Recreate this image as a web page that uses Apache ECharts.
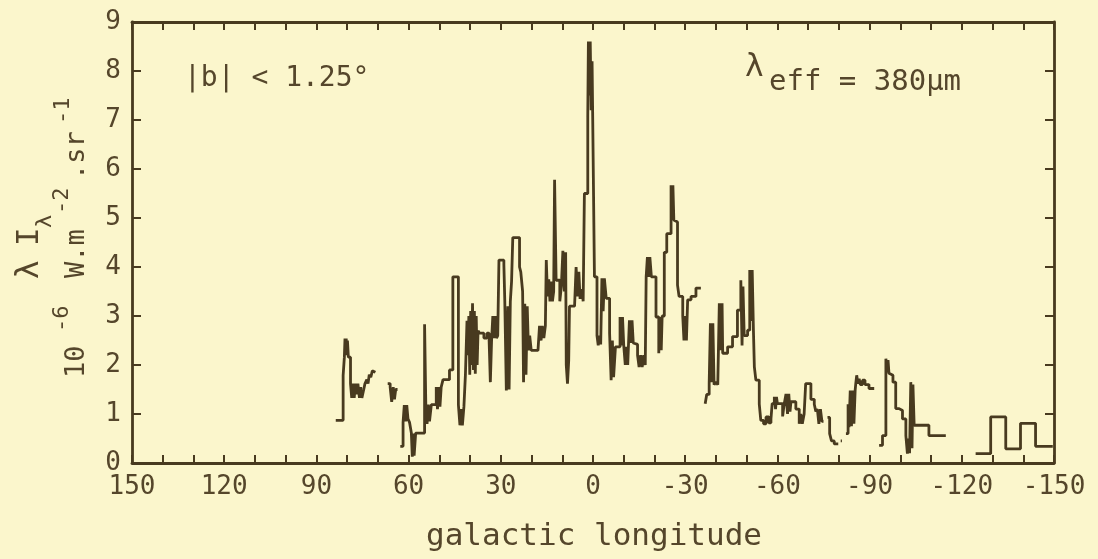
<!DOCTYPE html>
<html>
<head>
<meta charset="utf-8">
<script src="https://cdn.jsdelivr.net/npm/echarts@6/dist/echarts.min.js"></script>
<style>
  html, body { margin: 0; padding: 0; background: #fbf6cc; }
  #chart { width: 1098px; height: 559px; }
</style>
</head>
<body>
<div id="chart"></div>
<script>
// Galactic plane profile, |b| < 1.25 deg, 380 micron band.
// Each run is [longitude (deg), lambda*I_lambda (1e-6 W m^-2 sr^-1)];
// the value holds from its longitude until the next one (step plot).
const xTickValues = [150, 120, 90, 60, 30, 0, -30, -60, -90, -120, -150];
const yTickValues = [0, 1, 2, 3, 4, 5, 6, 7, 8, 9];

const run1 = [[83.7,0.87],[81.3,1.79],[80.9,2.16],[80.7,2.54],[80.5,2.2],[80.3,2.54],[80.1,2.2],[79.9,2.5],[79.6,2.16],[78.9,1.62],[78.5,1.33],[78.1,1.62],[77.7,1.33],[77.3,1.62],[76.9,1.4],[76.5,1.62],[76.0,1.33],[75.6,1.55],[75.2,1.33],[74.6,1.5],[74.2,1.62],[73.6,1.7],[73.2,1.62],[72.8,1.8],[72.3,1.75],[71.8,1.88],[71.3,1.85],[70.8,1.85]];

const run2 = [[66.8,1.62],[66.0,1.55],[65.5,1.25],[65.0,1.55],[64.6,1.3],[64.2,1.5],[63.6,1.5]];

const run3 = [[62.7,0.34],[61.8,0.83],[61.4,1.18],[61.0,0.85],[60.6,1.18],[60.2,0.9],[59.7,0.83],[59.1,0.61],[58.8,0.13],[58.5,0.6],[58.2,0.15],[57.7,0.61],[54.8,2.83],[54.4,1.19],[54.0,0.8],[53.6,1.19],[53.2,0.85],[52.6,1.19],[51.0,1.55],[50.6,1.1],[50.2,1.55],[49.8,1.15],[49.4,1.55],[48.8,1.7],[46.7,1.9],[45.6,3.8],[43.8,1.19],[43.3,0.77],[42.9,1.1],[42.5,0.77],[42.0,1.15],[41.5,1.82],[41.0,2.9],[40.7,2.2],[40.4,3.0],[40.1,1.8],[39.8,3.1],[39.5,2.0],[39.2,3.26],[38.9,1.9],[38.6,3.1],[38.3,1.82],[38.0,3.0],[37.7,2.0],[37.4,2.7],[36.9,2.65],[35.5,2.55],[34.5,2.65],[33.8,2.5],[33.4,1.65],[33.0,2.5],[32.6,3.0],[32.2,2.55],[31.8,3.0],[31.4,2.55],[31.0,2.6],[30.6,4.14],[29.0,4.05],[28.7,3.3],[28.2,1.48],[27.7,3.2],[27.3,1.5],[26.9,3.3],[26.5,3.7],[26.1,4.6],[23.9,4.0],[23.5,3.9],[22.9,3.5],[22.6,1.65],[22.2,3.25],[21.8,1.8],[21.4,3.2],[21.0,2.3],[20.6,2.6],[20.1,2.3],[17.9,2.3],[17.4,2.8],[16.9,2.5],[16.5,2.8],[16.0,2.55],[15.5,2.8],[15.2,4.14],[14.8,3.4],[14.4,3.75],[14.0,3.3],[13.6,3.7],[13.2,3.3],[12.8,3.5],[12.5,5.78],[12.0,3.73],[11.4,3.73],[10.8,3.3],[10.3,3.6],[9.8,4.33],[9.3,3.5],[8.9,4.3],[8.7,2.0],[8.3,1.62],[7.9,2.1],[7.65,3.2],[6.0,3.2],[5.5,4.0],[5.0,3.4],[4.6,3.9],[4.2,3.35],[3.6,3.55],[3.2,3.3],[2.8,5.5],[1.7,7.07],[1.5,8.6],[1.2,7.5],[0.9,8.6],[0.6,7.2],[0.3,8.2],[0.1,7.07],[-0.47,3.8],[-1.3,2.6],[-1.7,2.4],[-2.1,2.6],[-2.5,2.42],[-2.9,3.77],[-3.3,3.1],[-3.7,3.77],[-4.3,3.36],[-5.4,2.65],[-5.9,1.69],[-6.3,2.5],[-6.7,1.75],[-7.3,2.37],[-8.8,2.98],[-9.2,2.4],[-9.6,2.98],[-10.0,2.4],[-10.5,2.0],[-10.9,2.37],[-11.3,2.0],[-11.85,2.91],[-12.3,2.45],[-12.7,2.91],[-13.1,2.45],[-13.5,2.42],[-14.5,2.2],[-15.0,1.96],[-15.5,2.2],[-16.0,1.96],[-16.5,2.2],[-17.0,2.0],[-17.3,3.8],[-17.7,4.2],[-18.1,3.8],[-18.5,4.2],[-19.0,3.8],[-20.5,2.98],[-21.4,2.24],[-21.8,2.98],[-22.2,2.3],[-22.5,3.0],[-23.2,4.3],[-24.0,4.68],[-25.4,5.67],[-25.7,5.0],[-26.0,5.67],[-26.3,4.96],[-26.5,4.92],[-27.5,3.63],[-28.0,3.4],[-29.2,3.0],[-29.6,2.5],[-30.0,3.0],[-30.4,2.5],[-30.8,3.33],[-31.9,3.4],[-33.5,3.57],[-35.1,3.57]];

const run4 = [[-36.5,1.21],[-37.0,1.4],[-37.8,1.62],[-38.2,2.85],[-38.6,1.65],[-39.0,2.85],[-39.4,1.6],[-40.0,1.65],[-40.6,1.6],[-41.1,3.26],[-41.6,2.3],[-42.0,3.26],[-42.2,2.24],[-43.8,2.37],[-45.4,2.58],[-47.0,3.12],[-48.1,3.73],[-48.5,2.4],[-48.8,3.6],[-49.2,2.6],[-50.3,2.71],[-51.0,3.94],[-51.4,2.9],[-51.8,3.94],[-52.2,2.71],[-52.5,1.96],[-53.0,1.69],[-54.1,1.2],[-54.6,0.87],[-55.5,0.8],[-56.3,0.94],[-57.2,0.82],[-57.9,0.9],[-58.3,1.21],[-59.0,1.35],[-59.4,1.1],[-59.7,1.35],[-60.0,1.21],[-61.0,1.21],[-61.7,0.95],[-62.2,1.2],[-62.8,1.41],[-63.3,1.0],[-63.7,1.41],[-64.1,1.05],[-64.4,1.25],[-66.0,1.1],[-67.1,0.8],[-67.6,1.0],[-68.1,0.8],[-68.7,1.0],[-69.2,1.62],[-70.9,1.3],[-72.0,1.2],[-72.5,1.05],[-73.0,1.1],[-73.5,0.8],[-74.0,1.1],[-74.5,0.85],[-75.0,0.85]];

const run5 = [[-76.3,0.93],[-77.0,0.6],[-77.6,0.45],[-78.5,0.39],[-79.8,0.39]];

const run6 = [[-80.6,0.45],[-81.0,0.45]];

const run7 = [[-82.3,0.6],[-83.0,1.2],[-83.3,0.73],[-83.7,1.48],[-84.1,0.75],[-84.5,1.48],[-84.9,0.8],[-85.3,1.48],[-85.5,1.62],[-85.8,1.79],[-86.2,1.62],[-86.6,1.72],[-87.0,1.6],[-87.7,1.69],[-88.5,1.6],[-89.8,1.52],[-91.5,1.52]];

const run8 = [[-93.1,0.36],[-94.2,0.56],[-95.3,2.13],[-95.7,1.85],[-96.0,2.1],[-96.3,1.83],[-96.6,1.79],[-97.6,1.65],[-98.5,1.11],[-99.6,1.07],[-100.7,0.9],[-101.8,0.56],[-102.3,0.19],[-102.7,0.5],[-103.0,0.2],[-103.4,1.65],[-103.8,0.3],[-104.1,1.6],[-104.5,0.77],[-109.3,0.56],[-114.8,0.56]];

const run9 = [[-124.5,0.19],[-129.4,0.94],[-134.3,0.29],[-139.1,0.81],[-144.0,0.34],[-149.6,0.34]];

const runs = [run1, run2, run3, run4, run5, run6, run7, run8, run9];

const ink = '#483a1f';
const textInk = '#55462b';
const mono = '"DejaVu Sans Mono", "Liberation Mono", monospace';

const xMin = Math.min(...xTickValues), xMax = Math.max(...xTickValues);
const xStep = Math.abs(xTickValues[0] - xTickValues[1]);
const yMin = yTickValues[0], yMax = yTickValues[yTickValues.length - 1];

const frameLine = { show: true, onZero: false, lineStyle: { color: ink, width: 2.8 } };
const tickStyle = { color: ink, width: 2 };

const chart = echarts.init(document.getElementById('chart'), null, { renderer: 'canvas' });

const vText = (text, x, y, size, align) => ({
  type: 'text', x: x, y: y, rotation: Math.PI / 2, silent: true,
  style: { text: text, font: size + 'px ' + mono, fill: textInk,
           textAlign: align || 'left', textVerticalAlign: 'middle' }
});

chart.setOption({
  backgroundColor: '#fbf6cc',
  animation: false,
  grid: { left: 132, right: 44, top: 22, bottom: 96 },
  xAxis: [
    {
      type: 'value', position: 'bottom', min: xMin, max: xMax, interval: xStep, inverse: true,
      axisLine: frameLine,
      axisTick: { show: true, inside: true, length: 8, lineStyle: tickStyle },
      minorTick: { show: true, splitNumber: 3, length: 8, lineStyle: tickStyle },
      splitLine: { show: false },
      axisLabel: { color: textInk, fontFamily: mono, fontSize: 26, margin: 11,
                   formatter: v => String(v) }
    },
    {
      type: 'value', position: 'top', min: xMin, max: xMax, interval: xStep, inverse: true,
      axisLine: frameLine,
      axisTick: { show: true, inside: true, length: 8, lineStyle: tickStyle },
      minorTick: { show: true, splitNumber: 3, length: 8, lineStyle: tickStyle },
      splitLine: { show: false },
      axisLabel: { show: false }
    }
  ],
  yAxis: [
    {
      type: 'value', position: 'left', min: yMin, max: yMax, interval: 1,
      axisLine: frameLine,
      axisTick: { show: true, inside: true, length: 9, lineStyle: tickStyle },
      splitLine: { show: false },
      axisLabel: { color: textInk, fontFamily: mono, fontSize: 26, margin: 11 }
    },
    {
      type: 'value', position: 'right', min: yMin, max: yMax, interval: 1,
      axisLine: frameLine,
      axisTick: { show: true, inside: true, length: 9, lineStyle: tickStyle },
      splitLine: { show: false },
      axisLabel: { show: false }
    }
  ],
  series: runs.map(run => ({
    type: 'line',
    data: run,
    step: 'end',
    symbol: 'none',
    xAxisIndex: 0,
    yAxisIndex: 0,
    lineStyle: { color: ink, width: 2.8 },
    emphasis: { disabled: true }
  })),
  graphic: [
    // x-axis title
    { type: 'text', x: 594, y: 537, silent: true,
      style: { text: 'galactic longitude', font: '31px ' + mono, fill: textInk,
               textAlign: 'center', textVerticalAlign: 'middle' } },
    // panel annotations
    { type: 'text', x: 184, y: 79, silent: true,
      style: { text: '|b| < 1.25°', font: '28px ' + mono, fill: textInk,
               textAlign: 'left', textVerticalAlign: 'middle' } },
    { type: 'text', x: 745, y: 68, silent: true,
      style: { text: 'λ', font: '31px ' + mono, fill: textInk,
               textAlign: 'left', textVerticalAlign: 'middle' } },
    { type: 'text', x: 769, y: 82, silent: true,
      style: { text: 'eff = 380μm', font: '29px ' + mono, fill: textInk,
               textAlign: 'left', textVerticalAlign: 'middle' } },
    // y-axis title, first line: lambda I_lambda
    vText('λ', 30, 279, 31),
    vText('I', 30, 246, 31),
    vText('λ', 45, 228, 22),
    // y-axis title, second line: 10^-6 W.m^-2 .sr^-1
    vText('10', 77, 378, 27),
    vText('-6', 62, 332, 22),
    vText('W.m', 77, 278, 27),
    vText('-2', 62, 214, 22),
    vText('.sr', 77, 180, 27),
    vText('-1', 63, 124, 22)
  ]
});
</script>
</body>
</html>
